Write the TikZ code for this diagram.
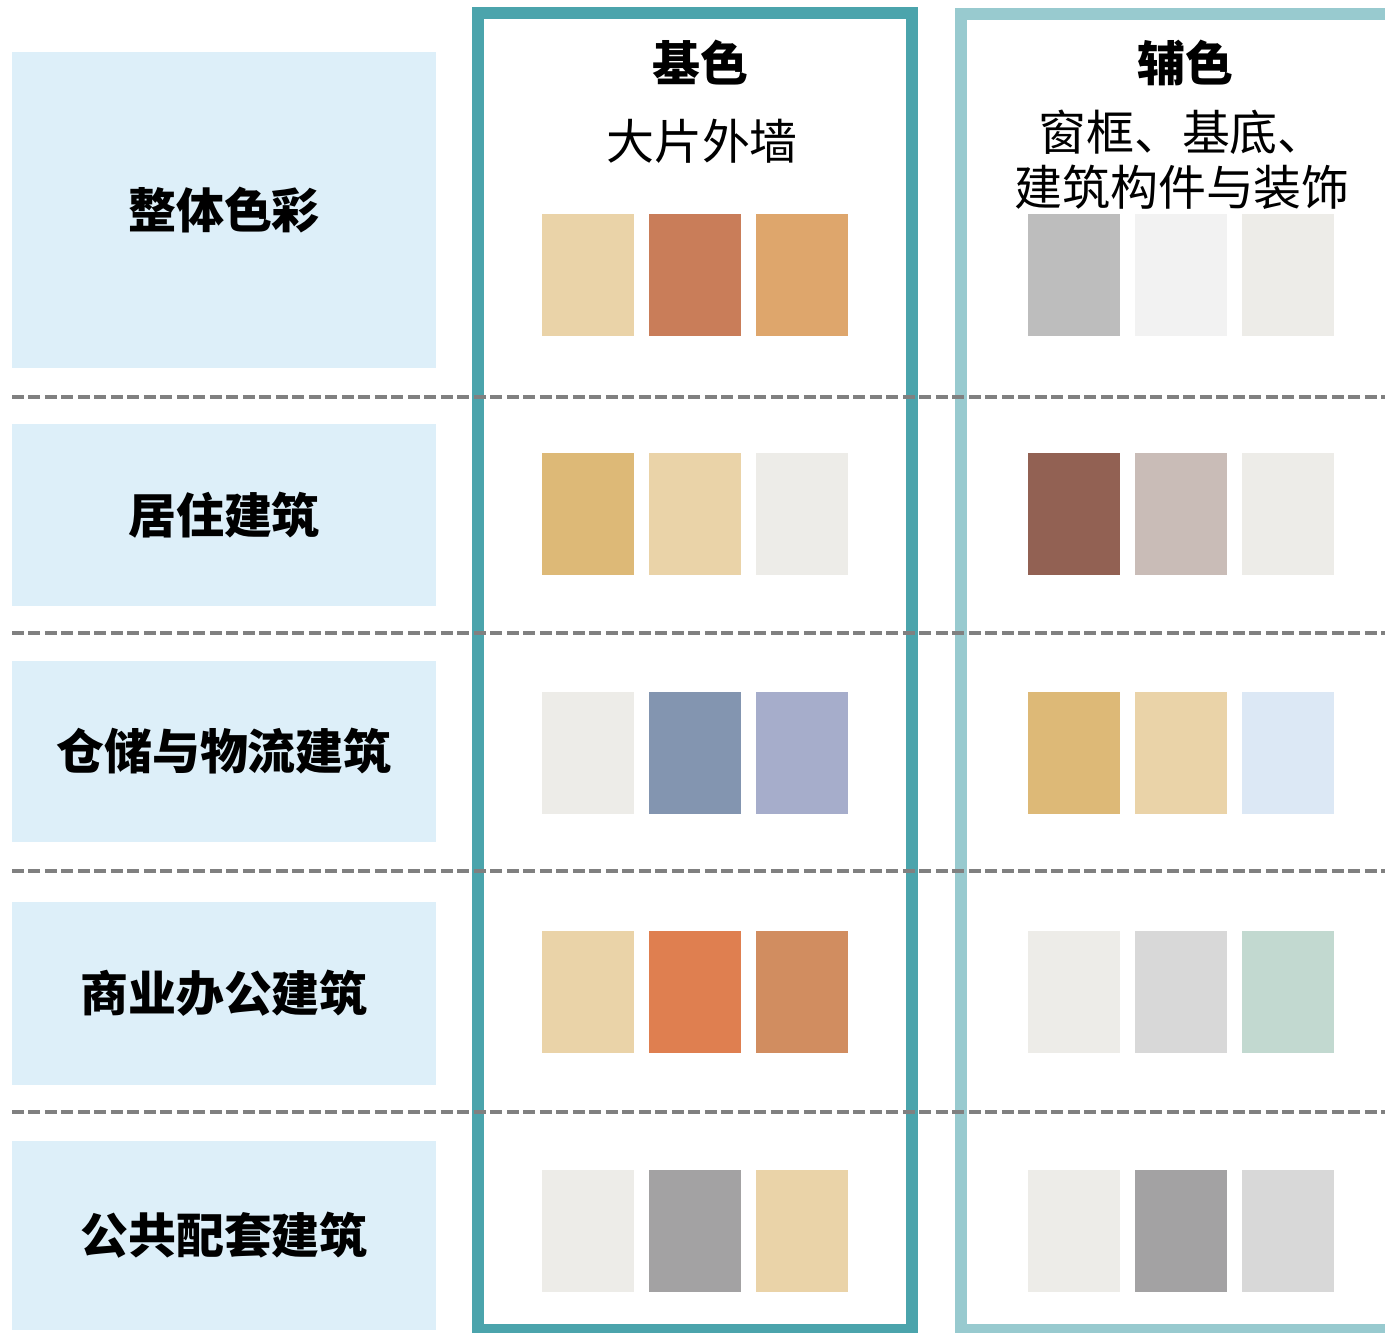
\documentclass[tikz,border=0pt]{standalone}
\usepackage{fontspec}
\newfontfamily\cjk{Noto Sans CJK SC}
\usepackage{tikz}

\definecolor{framedark}{HTML}{4BA4AC}
\definecolor{framelight}{HTML}{98CACF}
\definecolor{rowbg}{HTML}{DDEFF9}
\definecolor{dashgray}{HTML}{808080}
\definecolor{sand}{HTML}{EAD3A8}
\definecolor{terracotta}{HTML}{C97D59}
\definecolor{apricot}{HTML}{DEA66C}
\definecolor{silver}{HTML}{BDBDBD}
\definecolor{snow}{HTML}{F2F2F2}
\definecolor{offwhite}{HTML}{EDECE8}
\definecolor{ochre}{HTML}{DDB977}
\definecolor{umber}{HTML}{926153}
\definecolor{rosegray}{HTML}{C9BCB7}
\definecolor{steel}{HTML}{8395B0}
\definecolor{lavender}{HTML}{A6ADCB}
\definecolor{paleblue}{HTML}{DCE8F5}
\definecolor{orange}{HTML}{DF7F50}
\definecolor{clay}{HTML}{D18D60}
\definecolor{lightgray}{HTML}{D8D8D8}
\definecolor{mint}{HTML}{C2D9D0}
\definecolor{midgray}{HTML}{A3A2A3}

\begin{document}
\begin{tikzpicture}
[x=0.02cm,y=-0.02cm,
rowbox/.style={rectangle,fill=rowbg,inner sep=0pt,minimum width=8.48cm,
  font=\cjk\bfseries\fontsize{27.3}{33}\selectfont},
swatch/.style={rectangle,inner sep=0pt,minimum width=1.84cm,minimum height=2.44cm},
colhead/.style={inner sep=0pt,font=\cjk\bfseries\fontsize{27.3}{33}\selectfont},
colnote/.style={inner sep=0pt,align=center,font=\cjk\fontsize{27.3}{31.3}\selectfont},
rowline/.style={draw=dashgray,line width=0.08cm,dash pattern=on 0.24cm off 0.09cm}]
\useasboundingbox (0,0) rectangle (1385,1332);
\clip (0,0) rectangle (1385,1332);

% row titles
\node[rowbox,minimum height=6.32cm] at (224,210)    (all)   {整体色彩};
\node[rowbox,minimum height=3.64cm] at (224,515)    (home)  {居住建筑};
\node[rowbox,minimum height=3.62cm] at (224,751.5)  (store) {仓储与物流建筑};
\node[rowbox,minimum height=3.66cm] at (224,993.5)  (shop)  {商业办公建筑};
\node[rowbox,minimum height=3.78cm] at (224,1235.5) (pub)   {公共配套建筑};

% column frames
\draw[framedark,line width=0.24cm]  (478,13) rectangle (912,1330);
\draw[framelight,line width=0.24cm] (961,14) rectangle (1430,1330);

\node[colhead] at (700,63)  (base)     {基色};
\node[colnote] at (702,141) (basenote) {大片外墙};
\node[colhead] at (1185,63) (aux)      {辅色};
\node[colnote] at (1182,160) (auxnote) {窗框、基底、\\建筑构件与装饰};

% base colours
\node[swatch,fill=sand]       at (587.5,275) (b1a) {};
\node[swatch,fill=terracotta] at (694.5,275) (b1b) {};
\node[swatch,fill=apricot]    at (802,275)   (b1c) {};
\node[swatch,fill=ochre]      at (587.5,514) (b2a) {};
\node[swatch,fill=sand]       at (694.5,514) (b2b) {};
\node[swatch,fill=offwhite]   at (802,514)   (b2c) {};
\node[swatch,fill=offwhite]   at (587.5,753) (b3a) {};
\node[swatch,fill=steel]      at (694.5,753) (b3b) {};
\node[swatch,fill=lavender]   at (802,753)   (b3c) {};
\node[swatch,fill=sand]       at (587.5,992) (b4a) {};
\node[swatch,fill=orange]     at (694.5,992) (b4b) {};
\node[swatch,fill=clay]       at (802,992)   (b4c) {};
\node[swatch,fill=offwhite]   at (587.5,1231) (b5a) {};
\node[swatch,fill=midgray]    at (694.5,1231) (b5b) {};
\node[swatch,fill=sand]       at (802,1231)   (b5c) {};

% auxiliary colours
\node[swatch,fill=silver]     at (1074,275)   (a1a) {};
\node[swatch,fill=snow]       at (1180.5,275) (a1b) {};
\node[swatch,fill=offwhite]   at (1288,275)   (a1c) {};
\node[swatch,fill=umber]      at (1074,514)   (a2a) {};
\node[swatch,fill=rosegray]   at (1180.5,514) (a2b) {};
\node[swatch,fill=offwhite]   at (1288,514)   (a2c) {};
\node[swatch,fill=ochre]      at (1074,753)   (a3a) {};
\node[swatch,fill=sand]       at (1180.5,753) (a3b) {};
\node[swatch,fill=paleblue]   at (1288,753)   (a3c) {};
\node[swatch,fill=offwhite]   at (1074,992)   (a4a) {};
\node[swatch,fill=lightgray]  at (1180.5,992) (a4b) {};
\node[swatch,fill=mint]       at (1288,992)   (a4c) {};
\node[swatch,fill=offwhite]   at (1074,1231)   (a5a) {};
\node[swatch,fill=midgray]    at (1180.5,1231) (a5b) {};
\node[swatch,fill=lightgray]  at (1288,1231)   (a5c) {};

% dashed separators
\coordinate (s1) at (12,397);
\coordinate (s2) at (12,633);
\coordinate (s3) at (12,871);
\coordinate (s4) at (12,1112);
\path[rowline] (s1) -- ++(1380,0);
\path[rowline] (s2) -- ++(1380,0);
\path[rowline] (s3) -- ++(1380,0);
\path[rowline] (s4) -- ++(1380,0);
\end{tikzpicture}
\end{document}
